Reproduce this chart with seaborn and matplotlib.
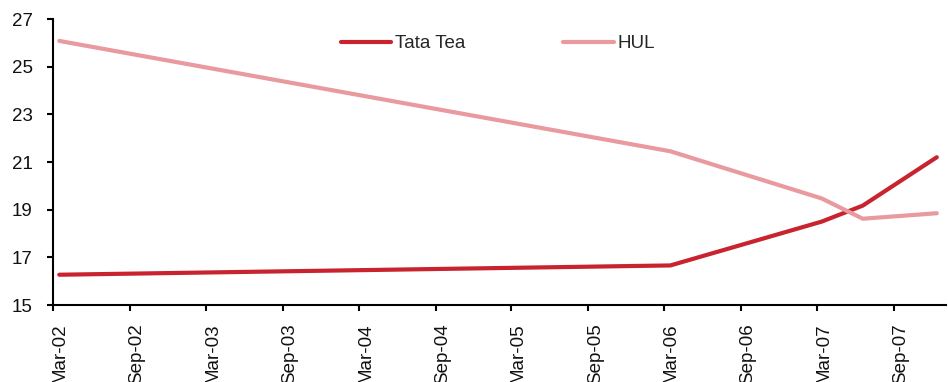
import pandas as pd
import matplotlib
matplotlib.use('Agg')
import matplotlib.pyplot as plt
import matplotlib.dates as mdates
import matplotlib.transforms as mtrans
import seaborn as sns

# values
dates = ['2002-03-16', '2006-03-16', '2007-03-13', '2007-06-19', '2007-12-13']
tata_tea = [16.27, 16.66, 18.50, 19.17, 21.20]
hul = [26.08, 21.45, 19.47, 18.62, 18.85]
series_names = ['Tata Tea', 'HUL']
colors = ['#C8232F', '#E89A9E']

# long-form frame for seaborn
df = pd.DataFrame({
    'date': pd.to_datetime(dates * 2),
    'value': tata_tea + hul,
    'series': [series_names[0]] * len(dates) + [series_names[1]] * len(dates),
})

sns.set_style('ticks')
plt.rcParams['font.family'] = ['Liberation Sans', 'DejaVu Sans']

fig = plt.figure(figsize=(9.48, 3.82), dpi=100)
ax = fig.add_axes([53 / 948, 1 - 305 / 382, 893 / 948, 286 / 382])

sns.lineplot(data=df, x='date', y='value', hue='series',
             palette=dict(zip(series_names, colors)), linewidth=3,
             ax=ax, legend=False)

ax.set_ylim(15, 27)
ax.set_yticks(range(15, 28, 2))
ax.set_xlim(pd.Timestamp('2002-03-01'), pd.Timestamp('2008-01-04'))
ax.xaxis.set_major_locator(mdates.MonthLocator(bymonth=[3, 9]))
ax.xaxis.set_major_formatter(mdates.DateFormatter('%b-%y'))
ax.set_xlabel('')
ax.set_ylabel('')

ax.tick_params(axis='both', direction='out', length=4.5, width=1.5,
               colors='black', labelsize=13.5, labelcolor='#111111')
ax.tick_params(axis='y', pad=10)
ax.tick_params(axis='x', pad=9)
offset = mtrans.ScaledTranslation(5 / 72, 0, fig.dpi_scale_trans)
for lab in ax.get_xticklabels():
    lab.set_rotation(90)
    lab.set_ha('center')
    lab.set_va('top')
    lab.set_transform(lab.get_transform() + offset)

sns.despine(ax=ax)
for side in ['left', 'bottom']:
    ax.spines[side].set_linewidth(1.5)
    ax.spines[side].set_color('black')

handles = [plt.Line2D([], [], color=c, linewidth=3) for c in colors]
ax.legend(handles, series_names, loc='center', bbox_to_anchor=(0.498, 0.913),
          ncol=2, frameon=False, fontsize=13.5, handlelength=2.7,
          handletextpad=0.2, columnspacing=5.2)

fig.savefig('out.png', dpi=100)
